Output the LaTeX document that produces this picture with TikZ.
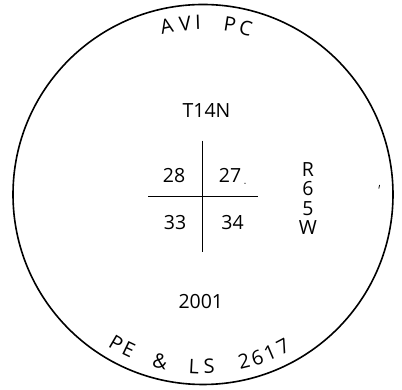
\documentclass[tikz,border=0pt]{standalone}
\usepackage{fontspec}
\setmainfont{Open Sans}
\begin{document}
\begin{tikzpicture}[x=1pt,y=1pt,
  lbl/.style={font=\fontsize{19.5}{19.5}\selectfont, inner sep=0pt, anchor=center},
  arcl/.style={font=\fontsize{20}{20}\selectfont, inner sep=0pt, anchor=center},
  ring/.style={draw, circle, line width=1.6pt, minimum size=380pt, inner sep=0pt},
  cross/.style={line width=1.3pt}]
\useasboundingbox (0,0) rectangle (402,390);
\coordinate (c) at (203,195.5);
\node[ring] (circ) at (c) {};
% cross
\coordinate (vtop) at (202.5,249.3);
\coordinate (vbot) at (202.5,138.3);
\coordinate (hl) at (148.3,193.3);
\coordinate (hr) at (258.3,193.3);
\draw[cross] (vtop) -- (vbot);
\draw[cross] (hl) -- (hr);
% texts
\node[lbl] (t14n) at (206.5,279.5) {T14N};
\node[lbl] (s28) at (174,214.5) {28};
\node[lbl] (s27) at (230,214.5) {27};
\node[lbl] (s33) at (175,167.5) {33};
\node[lbl] (s34) at (232.5,167.5) {34};
\node[lbl] (r) at (308,220.5) {R};
\node[lbl] (r6) at (308,201) {6};
\node[lbl] (r5) at (308,181.5) {5};
\node[lbl] (rw) at (308,162) {W};
\node[lbl] (yr) at (200.8,88) {2001};
% small marks
\fill (245,206.7) circle (0.7);
\draw[line width=0.8pt] (378.8,201.5) -- (379.6,205);
% top arc text
\foreach \a/\t/\n in {102.2/A/ta, 96/V/tb, 91.7/I/tc, 81/P/td, 75.6/C/te}
  \node[arcl, rotate=\a-90] (\n) at ([shift={(\a:172)}]c) {\t};
% bottom arc text
\foreach \a/\t/\n in {239.7/P/ba, 244.4/E/bb, 255.6/{\&}/bc, 267/L/bd, 272/S/be, 283.8/2/bf, 288.4/6/bg, 293/1/bh, 297.8/7/bi}
  \node[arcl, rotate=\a+90] (\n) at ([shift={(\a:172)}]c) {\t};
\end{tikzpicture}
\end{document}
